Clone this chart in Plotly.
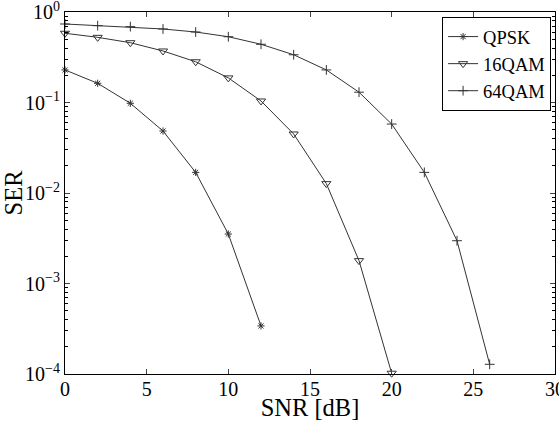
import plotly.graph_objects as go

snr_qpsk = [0, 2, 4, 6, 8, 10, 12]
ser_qpsk = [0.229, 0.163, 0.098, 0.0484, 0.0169, 0.00352, 0.00034]

snr_16qam = [0, 2, 4, 6, 8, 10, 12, 14, 16, 18, 20]
ser_16qam = [0.582, 0.525, 0.458, 0.371, 0.282, 0.187, 0.104, 0.0449, 0.0127, 0.00179, 0.000102]

snr_64qam = [0, 2, 4, 6, 8, 10, 12, 14, 16, 18, 20, 22, 24, 26]
ser_64qam = [0.737, 0.706, 0.689, 0.649, 0.601, 0.533, 0.44, 0.337, 0.229, 0.130, 0.0578, 0.0169, 0.00297, 0.000128]

x_ticks = [0, 5, 10, 15, 20, 25, 30]
y_ticks = [1e-4, 1e-3, 1e-2, 1e-1, 1]
y_ticktext = ["10<sup>\u22124</sup>", "10<sup>\u22123</sup>", "10<sup>\u22122</sup>", "10<sup>\u22121</sup>", "10<sup>0</sup>"]

line_color = "#333333"
font_family = "'Liberation Serif', 'Times New Roman', Times, serif"

fig = go.Figure()
fig.add_trace(go.Scatter(x=snr_qpsk, y=ser_qpsk, name="QPSK", mode="lines+markers",
                         line=dict(color=line_color, width=1),
                         marker=dict(symbol="asterisk-open", size=6, color=line_color, line=dict(width=1, color=line_color)),
                         cliponaxis=False))
fig.add_trace(go.Scatter(x=snr_16qam, y=ser_16qam, name="16QAM", mode="lines+markers",
                         line=dict(color=line_color, width=1),
                         marker=dict(symbol="triangle-down-open", size=8, color=line_color, line=dict(width=1, color=line_color)),
                         cliponaxis=False))
fig.add_trace(go.Scatter(x=snr_64qam, y=ser_64qam, name="64QAM", mode="lines+markers",
                         line=dict(color=line_color, width=1),
                         marker=dict(symbol="cross-thin-open", size=7, color=line_color, line=dict(width=1, color=line_color)),
                         cliponaxis=False))

fig.update_layout(
    width=559, height=421,
    margin=dict(l=65, r=4, t=12, b=47),
    plot_bgcolor="white", paper_bgcolor="white",
    font=dict(family=font_family, size=18, color="black"),
    showlegend=True,
    legend=dict(x=0.992, y=0.986, xanchor="right", yanchor="top",
                bordercolor="black", borderwidth=1, bgcolor="white",
                font=dict(size=18.5), tracegroupgap=0, itemwidth=30),
    xaxis=dict(range=[0, 30], tickvals=x_ticks, ticks="inside", ticklen=5,
               showline=True, linecolor="black", linewidth=1, mirror="ticks",
               showgrid=False, zeroline=False, ticklabeloverflow="allow",
               ticklabelstandoff=-3,
               automargin=False, tickfont=dict(size=20),
               title=dict(text="SNR [dB]", font=dict(size=24.5), standoff=0)),
    yaxis=dict(type="log", range=[-4, 0], tickvals=y_ticks, ticktext=y_ticktext,
               ticks="inside", ticklen=5, ticklabeloverflow="allow",
               automargin=False, tickfont=dict(size=20),
               showline=True, linecolor="black", linewidth=1, mirror="ticks",
               showgrid=False, zeroline=False,
               minor=dict(ticks="inside", ticklen=3, dtick="D1", showgrid=False, tickcolor="black"),
               title=dict(text="SER", font=dict(size=24.5), standoff=4)),
)

fig.write_html("out.html")
